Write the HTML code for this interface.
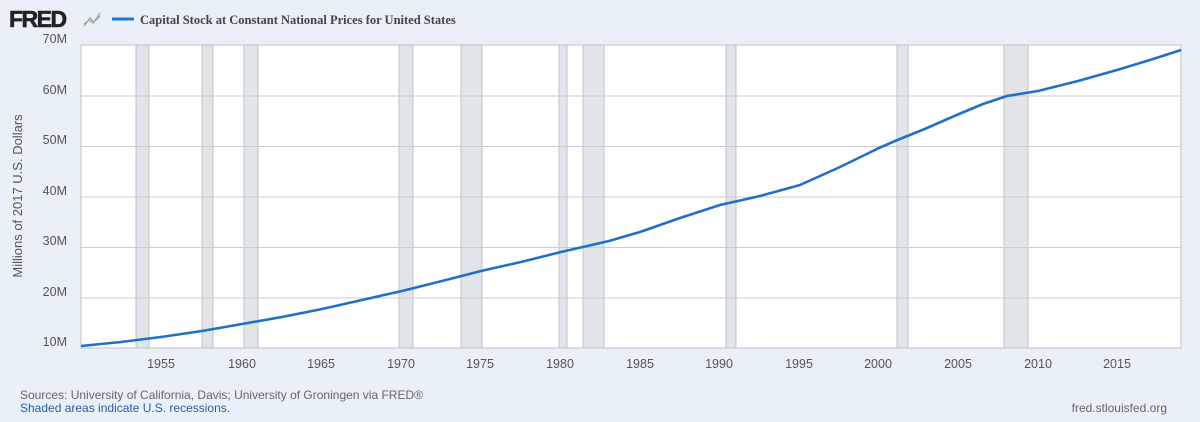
<!DOCTYPE html>
<html><head><meta charset="utf-8"><style>
html,body{margin:0;padding:0;background:#e9f0f9;}
body{width:1200px;height:417px;overflow:hidden;font-family:"Liberation Sans",sans-serif;}
</style></head><body>
<svg width="1200" height="417" xmlns="http://www.w3.org/2000/svg" font-family="Liberation Sans, sans-serif">
<rect width="1200" height="417" fill="#e9f0f9"/>
<text x="9" y="27" font-size="23" font-weight="bold" fill="#222" letter-spacing="-1.5" stroke="#222" stroke-width="0.6">FRED</text>
<g stroke="#8fb08f" stroke-width="1.3" fill="none"><path d="M84 26 L90 18 L94 22 L100 13"/><path d="M84 24 L89 20 L93 23 L100 16"/></g>
<line x1="112" y1="19" x2="134" y2="19" stroke="#1f77d4" stroke-width="3"/>
<text x="140" y="24" font-family="Liberation Serif, serif" font-weight="bold" font-size="12.5" fill="#444">Capital Stock at Constant National Prices for United States</text>
<rect x="81" y="45" width="1100" height="303" fill="#fff"/>
<g fill="#e1e5ea" stroke="#bfc3c8" stroke-width="1">
<rect x="136" y="45" width="13" height="303"/>
<rect x="202" y="45" width="11" height="303"/>
<rect x="244" y="45" width="14" height="303"/>
<rect x="399" y="45" width="14" height="303"/>
<rect x="461" y="45" width="21" height="303"/>
<rect x="559" y="45" width="8" height="303"/>
<rect x="583" y="45" width="21" height="303"/>
<rect x="726" y="45" width="10" height="303"/>
<rect x="897" y="45" width="11" height="303"/>
<rect x="1004" y="45" width="24" height="303"/>
</g>
<g stroke="#cccccc" stroke-width="1">
<line x1="81" y1="96" x2="1181" y2="96"/><line x1="81" y1="146.5" x2="1181" y2="146.5"/>
<line x1="81" y1="197" x2="1181" y2="197"/><line x1="81" y1="247.5" x2="1181" y2="247.5"/>
<line x1="81" y1="298" x2="1181" y2="298"/>
</g>
<rect x="81" y="45" width="1100" height="303" fill="none" stroke="#c0c0c0"/>
<g font-size="12.5" fill="#555" text-anchor="end">
<text x="67" y="43">70M</text><text x="67" y="94">60M</text><text x="67" y="144">50M</text>
<text x="67" y="195">40M</text><text x="67" y="245">30M</text><text x="67" y="296">20M</text><text x="67" y="346">10M</text>
</g>
<text transform="translate(22,196) rotate(-90)" font-size="13" fill="#555" text-anchor="middle">Millions of 2017 U.S. Dollars</text>
<g font-size="12.5" fill="#555" text-anchor="middle">
<text x="161" y="368">1955</text><text x="242" y="368">1960</text><text x="321" y="368">1965</text>
<text x="401" y="368">1970</text><text x="480" y="368">1975</text><text x="560" y="368">1980</text>
<text x="640" y="368">1985</text><text x="719" y="368">1990</text><text x="799" y="368">1995</text>
<text x="878" y="368">2000</text><text x="958" y="368">2005</text><text x="1038" y="368">2010</text>
<text x="1117" y="368">2015</text>
</g>
<polyline points="81,346 121,342 161,337 202,331 242,324 282,317 322,309 362,300 402,291 442,281 481,271 521,262 561,252 609,241 640,232 680,218 720,205 760,196 800,185 840,167 879,148 895,141 927,128 959,114 983,104 1007,96 1038,91 1078,81 1117,70 1150,60 1181,50" fill="none" stroke="#1f70c8" stroke-width="2.6" stroke-linejoin="round"/>
<text x="20" y="399" font-size="12" fill="#666">Sources: University of California, Davis; University of Groningen via FRED®</text>
<text x="20" y="412" font-size="12" fill="#2a5fa0">Shaded areas indicate U.S. recessions.</text>
<text x="1167" y="412" font-size="12" fill="#666" text-anchor="end">fred.stlouisfed.org</text>
</svg>
</body></html>
